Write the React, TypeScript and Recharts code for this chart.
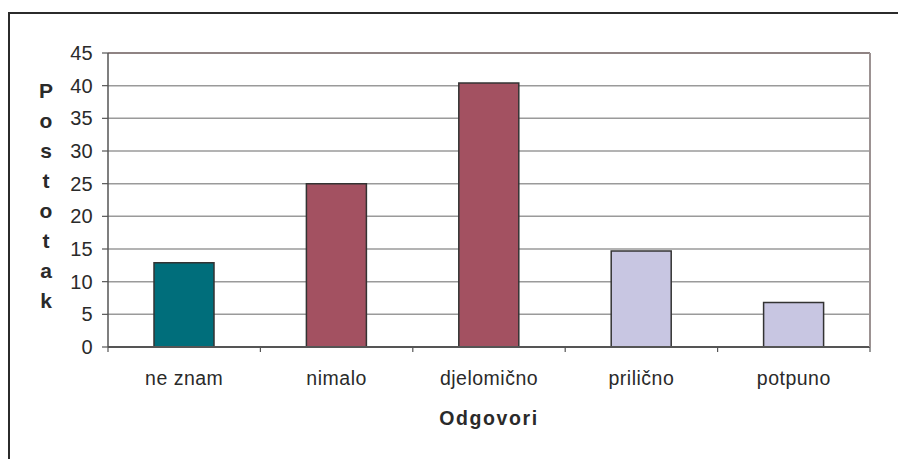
import React from "react";
import { BarChart, Bar, XAxis, YAxis, CartesianGrid, Cell, ReferenceLine, Label } from "recharts";

const categories = ["ne znam", "nimalo", "djelomično", "prilično", "potpuno"];
const values = [12.9, 25.0, 40.4, 14.7, 6.8];
const barColors = ["#006E7B", "#A35161", "#A35161", "#C8C6E2", "#C8C6E2"];
const yTicks = [0, 5, 10, 15, 20, 25, 30, 35, 40, 45];
const yTitle = "Postotak";
const xTitle = "Odgovori";

const data = categories.map((c, i) => ({ name: c, value: values[i] }));

const W = 898;
const H = 451;
const PLOT_LEFT = 100;
const PLOT_RIGHT = 862;
const BAND = (PLOT_RIGHT - PLOT_LEFT) / categories.length;
const FONT = "'Liberation Sans', Arial, sans-serif";

const XTick = (props: any) => {
  const { x, y, payload, index } = props;
  const axisY = y - 5;
  return (
    <g>
      <line x1={x - BAND / 2} x2={x - BAND / 2} y1={axisY} y2={axisY + 5} stroke="#555" strokeWidth={1.2} />
      {index === categories.length - 1 && (
        <line x1={x + BAND / 2} x2={x + BAND / 2} y1={axisY} y2={axisY + 5} stroke="#555" strokeWidth={1.2} />
      )}
      <text x={x} y={axisY + 38} textAnchor="middle" fontSize={19.5} letterSpacing={0.5} fill="#2a2a2a" fontFamily={FONT}>
        {payload.value}
      </text>
    </g>
  );
};

const YTitle = () => (
  <g>
    {yTitle.split("").map((ch, i) => (
      <text key={i} x={38} y={90 + 30 * i} textAnchor="middle" fontSize={21} fontWeight="bold" fill="#2a2a2a" fontFamily={FONT}>
        {ch}
      </text>
    ))}
  </g>
);

const XTitle = (props: any) => {
  const vb = props.viewBox || {};
  const cx = (vb.x ?? PLOT_LEFT) + (vb.width ?? PLOT_RIGHT - PLOT_LEFT) / 2;
  return (
    <text x={cx} y={417} textAnchor="middle" fontSize={19.5} fontWeight="bold" letterSpacing={1.6} fill="#2a2a2a" fontFamily={FONT}>
      {xTitle}
    </text>
  );
};

export default function App() {
  return (
    <div style={{ position: "relative", width: W, height: H, overflow: "hidden", background: "#fff" }}>
      <div
        style={{
          position: "absolute",
          top: 4,
          left: 0,
          width: 1000,
          height: 1000,
          border: "2px solid #2b2b2b",
          boxSizing: "border-box",
        }}
      />
      <div style={{ position: "absolute", top: 0, left: 0 }}>
        <BarChart width={W} height={H} data={data} margin={{ top: 45, right: 35, bottom: 52, left: 0 }} barSize={60}>
          <CartesianGrid horizontal={true} vertical={false} stroke="#9a9a9a" strokeWidth={1.5} />
          <XAxis
            dataKey="name"
            height={60}
            axisLine={{ stroke: "#555", strokeWidth: 2 }}
            tickLine={false}
            tickSize={5}
            tickMargin={0}
            tick={<XTick />}
            interval={0}
          >
            <Label content={<XTitle />} />
          </XAxis>
          <YAxis
            width={100}
            domain={[0, 45]}
            ticks={yTicks}
            interval={0}
            axisLine={{ stroke: "#555", strokeWidth: 1.5 }}
            tickLine={{ stroke: "#555", strokeWidth: 1.2 }}
            tickSize={6}
            tickMargin={9}
            tick={{ fill: "#2a2a2a", fontSize: 20, fontFamily: FONT, letterSpacing: 0.3 }}
          >
            <Label content={<YTitle />} />
          </YAxis>
          <YAxis
            yAxisId="r"
            orientation="right"
            width={1}
            domain={[0, 45]}
            tick={false}
            tickLine={false}
            axisLine={{ stroke: "#9c9292", strokeWidth: 2 }}
          />
          <ReferenceLine y={45} stroke="#8f8383" strokeWidth={2} />
          <Bar dataKey="value" stroke="#333" strokeWidth={1.5} isAnimationActive={false}>
            {data.map((d, i) => (
              <Cell key={d.name} fill={barColors[i]} />
            ))}
          </Bar>
        </BarChart>
      </div>
    </div>
  );
}
